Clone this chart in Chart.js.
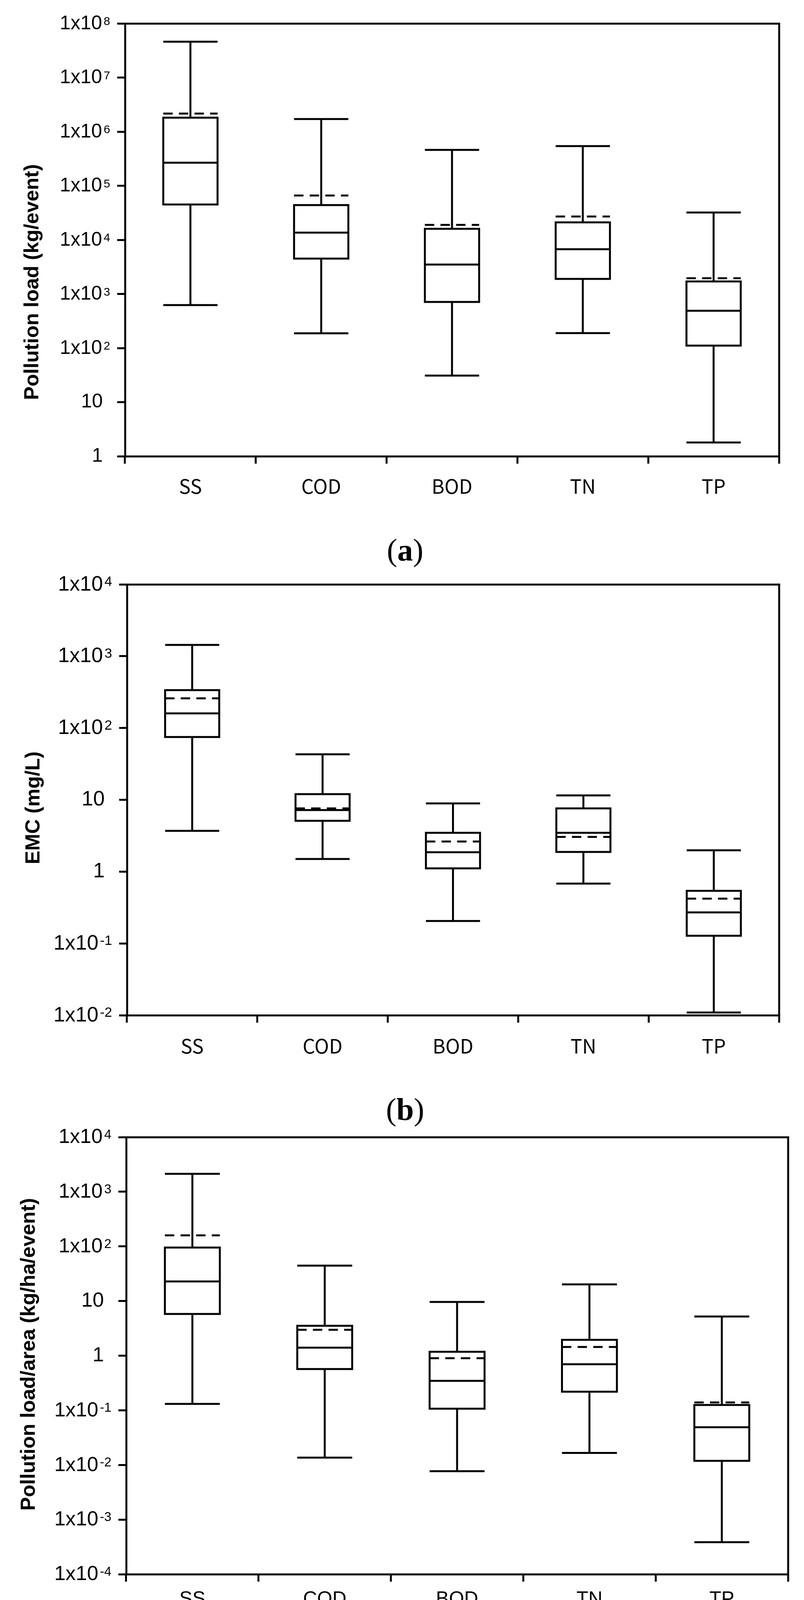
<!DOCTYPE html>
<html>
<head>
<meta charset="utf-8">
<script src="https://cdn.jsdelivr.net/npm/chart.js@4.4.1/dist/chart.umd.min.js"></script>
<style>
  html,body{margin:0;padding:0;background:#fff}
  #page{position:relative;width:2058px;height:4296px;background:#fff;overflow:hidden}
  canvas{position:absolute;left:0}
  .cap{position:absolute;left:937px;width:200px;height:80px;text-align:center;
       font:80px/80px "Liberation Serif","DejaVu Serif",serif;color:#000}
</style>
</head>
<body>
<div id="page">
  <canvas id="ca" width="2058" height="1330" style="top:0;width:2058px;height:1330px"></canvas>
  <div class="cap" style="top:1368px">(<b>a</b>)</div>
  <canvas id="cb" width="2058" height="1320" style="top:1450px;width:2058px;height:1320px"></canvas>
  <div class="cap" style="top:2800px">(<b>b</b>)</div>
  <canvas id="cc" width="2058" height="1290" style="top:2880px;width:2058px;height:1290px"></canvas>
  <div class="cap" style="top:4181px">(<b>c</b>)</div>
</div>
<script>
const CATEGORIES=['SS','COD','BOD','TN','TP'];

// (a) pollution load, kg/event
const LOAD_MIN   =[622,   187,    31,    189,   1.8];
const LOAD_Q1    =[4.5e4, 4.5e3,  711,   1.9e3, 111];
const LOAD_MEDIAN=[2.67e5,1.36e4, 3.5e3, 6.7e3, 490];
const LOAD_Q3    =[1.81e6,4.4e4,  1.6e4, 2.1e4, 1.7e3];
const LOAD_MAX   =[4.6e7, 1.71e6, 4.6e5, 5.4e5, 3.2e4];
const LOAD_MEAN  =[2.16e6,6.6e4,  1.89e4,2.7e4, 1.95e3];
const LOAD_TICKS =[1,10,1e2,1e3,1e4,1e5,1e6,1e7,1e8];
const LOAD_TICK_LABELS=['1','10','1x10^2','1x10^3','1x10^4','1x10^5','1x10^6','1x10^7','1x10^8'];

// (b) EMC, mg/L
const EMC_MIN   =[3.7,  1.5, 0.205, 0.68, 0.0109];
const EMC_Q1    =[75,   5.1, 1.11,  1.88, 0.128];
const EMC_MEDIAN=[160,  7.2, 1.86,  3.47, 0.27];
const EMC_Q3    =[337,  12,  3.47,  7.6,  0.54];
const EMC_MAX   =[1435, 43,  8.9,   11.5, 1.98];
const EMC_MEAN  =[259,  7.6, 2.63,  3.04, 0.42];
const EMC_TICKS =[1e-2,1e-1,1,10,1e2,1e3,1e4];
const EMC_TICK_LABELS=['1x10^-2','1x10^-1','1','10','1x10^2','1x10^3','1x10^4'];

// (c) pollution load per area, kg/ha/event
const AREA_MIN   =[0.131, 0.0136, 0.0077, 0.0166, 3.86e-4];
const AREA_Q1    =[5.8,   0.57,   0.107,  0.219,  0.0119];
const AREA_MEDIAN=[22.8,  1.40,   0.346,  0.695,  0.0489];
const AREA_Q3    =[95,    3.52,   1.18,   1.95,   0.125];
const AREA_MAX   =[2128,  44.4,   9.6,    20.2,   5.2];
const AREA_MEAN  =[159,   2.98,   0.90,   1.44,   0.139];
const AREA_TICKS =[1e-4,1e-3,1e-2,1e-1,1,10,1e2,1e3,1e4];
const AREA_TICK_LABELS=['1x10^-4','1x10^-3','1x10^-2','1x10^-1','1','10','1x10^2','1x10^3','1x10^4'];

const LW=5;            // stroke width of every line
const HALF=0.2075;     // half box width, in category units
const TICK_FONT='"Liberation Sans",Arial,sans-serif';

// text Chart.js can't do itself: superscript ticks, category labels, rotated title
const panelText={
  id:'panelText',
  afterDraw(chart,args,o){
    const ctx=chart.ctx, a=chart.chartArea, ys=chart.scales.y, xs=chart.scales.x;
    const baseFont=o.tickSize+'px '+TICK_FONT, supFont=o.supSize+'px '+TICK_FONT;
    ctx.save();
    ctx.fillStyle='#000';
    o.tickLabels.forEach((lab,i)=>{
      const y=ys.getPixelForValue(o.ticks[i]);
      const [base,sup]=lab.split('^');
      ctx.font=baseFont;
      ctx.textBaseline='middle';
      if(sup===undefined){
        ctx.textAlign='right'; ctx.fillText(base,a.left-57,y);
        return;
      }
      ctx.font=supFont;
      const ws=ctx.measureText(sup).width, sx=a.left-38-ws;
      ctx.textAlign='left'; ctx.textBaseline='alphabetic';
      ctx.fillText(sup,sx,y+4);
      ctx.font=baseFont;
      ctx.textAlign='right'; ctx.textBaseline='middle';
      ctx.fillText(base,sx-4,y+1);
    });
    ctx.font=o.catFont; ctx.textAlign='center'; ctx.textBaseline='middle';
    CATEGORIES.forEach((c,i)=>ctx.fillText(c,xs.getPixelForValue(i),a.bottom+o.catOffset));
    ctx.translate(o.titleX,o.titleY); ctx.rotate(-Math.PI/2);
    ctx.font='bold 52px '+TICK_FONT;
    ctx.fillText(o.title,0,0);
    ctx.restore();
  }
};

const gap=i=>({x:i,y:null});
function segs(vals){
  return vals.flatMap((v,i)=>[{x:i-HALF,y:v},{x:i+HALF,y:v},gap(i)]);
}

function boxData(mn,q1,md,q3,mx,mean){
  const line={xAxisID:'xs',yAxisID:'y',borderColor:'#000',borderWidth:LW,
    pointRadius:0,pointHoverRadius:0,fill:false,tension:0,spanGaps:false,
    borderCapStyle:'butt',borderJoinStyle:'miter'};
  // box outline starts mid-edge so every corner gets a miter join
  const box=q1.flatMap((v,i)=>[{x:i,y:v},{x:i+HALF,y:v},{x:i+HALF,y:q3[i]},
    {x:i-HALF,y:q3[i]},{x:i-HALF,y:v},{x:i,y:v},gap(i)]);
  const whisk=mn.flatMap((v,i)=>[{x:i,y:v},{x:i,y:q1[i]},gap(i),
    {x:i,y:q3[i]},{x:i,y:mx[i]},gap(i)]);
  return {
    labels:CATEGORIES,
    datasets:[
      {...line,label:'median',data:segs(md)},
      {...line,label:'mean',data:segs(mean),borderDash:[24,16]},
      {...line,label:'box',data:box},
      {...line,label:'caps',data:segs(mn).concat(segs(mx))},
      {...line,label:'whiskers',data:whisk}
    ]
  };
}

function makePanel(id,data,ticks,tickLabels,pad,text){
  const tickGrid={display:true,drawOnChartArea:false,drawTicks:true,color:'#000',
    lineWidth:LW,tickColor:'#000',tickWidth:LW};
  const frame={display:true,grid:{display:false,drawTicks:false},ticks:{display:false},
    border:{display:true,width:LW,color:'#000'}};
  return new Chart(document.getElementById(id),{
    type:'line',
    data,
    options:{
      responsive:false,devicePixelRatio:1,animation:false,
      layout:{padding:pad},
      plugins:{legend:{display:false},tooltip:{enabled:false},
               panelText:{...text,ticks,tickLabels}},
      scales:{
        x:{type:'category',axis:'x',position:'bottom',offset:true,
           grid:{...tickGrid,offset:true,tickLength:19},ticks:{display:false},
           border:{display:true,width:LW,color:'#000'},afterFit:s=>{s.height=30;}},
        xs:{type:'linear',axis:'x',display:false,offset:false,min:-0.5,max:4.5},
        xTop:{...frame,type:'category',axis:'x',position:'top',afterFit:s=>{s.height=0;}},
        y:{type:'logarithmic',axis:'y',position:'left',min:ticks[0],max:ticks[ticks.length-1],
           grid:{...tickGrid,tickLength:20},ticks:{display:false},
           border:{display:true,width:LW,color:'#000'},
           afterBuildTicks:s=>{s.ticks=ticks.map(v=>({value:v}));},
           afterFit:s=>{s.width=60;}},
        yRight:{...frame,type:'linear',axis:'y',position:'right',afterFit:s=>{s.width=0;}}
      }
    },
    plugins:[panelText]
  });
}

makePanel('ca',boxData(LOAD_MIN,LOAD_Q1,LOAD_MEDIAN,LOAD_Q3,LOAD_MAX,LOAD_MEAN),
  LOAD_TICKS,LOAD_TICK_LABELS,{left:260,top:60,right:64,bottom:132},
  {title:'Pollution load (kg/event)',titleX:84,titleY:722,tickSize:50,supSize:30,
   catFont:'50px "Noto Sans CJK KR",sans-serif',catOffset:77});

makePanel('cb',boxData(EMC_MIN,EMC_Q1,EMC_MEDIAN,EMC_Q3,EMC_MAX,EMC_MEAN),
  EMC_TICKS,EMC_TICK_LABELS,{left:265,top:46,right:64,bottom:141},
  {title:'EMC (mg/L)',titleX:87,titleY:618,tickSize:53,supSize:35,
   catFont:'50px "Noto Sans CJK KR",sans-serif',catOffset:79});

makePanel('cc',boxData(AREA_MIN,AREA_Q1,AREA_MEDIAN,AREA_Q3,AREA_MAX,AREA_MEAN),
  AREA_TICKS,AREA_TICK_LABELS,{left:263,top:31,right:41,bottom:110},
  {title:'Pollution load/area (kg/ha/event)',titleX:75,titleY:587,tickSize:52,supSize:33,
   catFont:'50px "Liberation Sans",Arial,sans-serif',catOffset:65});
</script>
</body>
</html>
